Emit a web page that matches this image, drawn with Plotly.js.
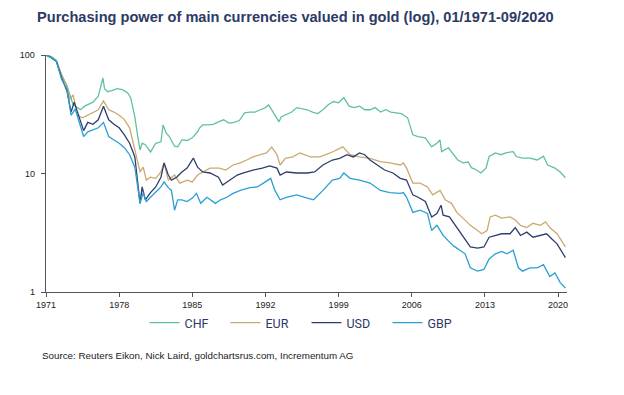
<!DOCTYPE html>
<html>
<head>
<meta charset="utf-8">
<script src="https://cdn.plot.ly/plotly-3.0.1.min.js"></script>
<style>html,body{margin:0;padding:0;background:#fff;}#chart{width:624px;height:395px;}</style>
</head>
<body>
<div id="chart"></div>
<script>
// ---- data ----
const chfYears = [1971.0,1971.5,1972.0,1972.5,1973.0,1973.3,1973.6,1974.0,1974.3,1974.7,1975.0,1975.5,1976.0,1976.45,1976.6,1976.9,1977.3,1977.8,1978.3,1978.8,1979.1,1979.5,1979.8,1980.0,1980.2,1980.5,1981.0,1981.5,1982.0,1982.2,1982.5,1982.8,1983.3,1983.6,1984.0,1984.5,1985.0,1985.5,1985.7,1986.0,1986.5,1987.0,1987.5,1988.0,1988.5,1989.0,1989.5,1990.0,1990.5,1991.0,1991.5,1992.0,1992.3,1992.8,1993.3,1993.5,1994.0,1994.5,1995.0,1995.5,1996.0,1996.5,1997.0,1997.5,1998.0,1998.5,1999.0,1999.5,2000.0,2000.5,2001.0,2001.5,2002.0,2002.5,2003.0,2003.5,2004.0,2004.5,2005.0,2005.6,2006.1,2006.6,2007.3,2007.9,2008.4,2008.7,2008.85,2009.5,2010.0,2010.4,2010.9,2011.4,2011.7,2012.2,2012.6,2013.1,2013.4,2014.0,2014.5,2015.1,2015.7,2016.0,2016.6,2017.3,2018.0,2018.6,2019.0,2019.7,2020.2,2020.7];
const chfValues = [100,97,90,68,55,45,38,36,34.5,37,38,40,45,64,52,49,50,52,51,48,43.6,30,20,15.8,18,17.5,15.2,18,18.5,25.7,22,20.5,17,16.8,19.2,19,20,22.5,24.3,25.7,25.7,26,27.3,28.4,26.6,27,28,32.5,33,33,34.5,36,38,32.5,27.3,30,31.3,33,36,35,34.5,33,32,34.5,38,40.5,39.5,43.7,37,36,37,34.5,34.5,36,33,34.5,33,32.5,32,29.5,21.2,20.5,20,16.8,18,19.2,15.3,16.5,14.4,13.0,12.3,12.5,11.2,10.7,10.1,11.1,13.9,14.9,14.4,15,15.3,13.9,13.5,13.5,13.0,14.0,11.8,11.1,10.3,9.2];

const eurYears = [1971.0,1971.5,1972.0,1972.5,1973.0,1973.3,1973.6,1974.0,1974.5,1975.0,1975.5,1976.0,1976.5,1977.0,1977.5,1978.0,1978.5,1979.0,1979.5,1980.0,1980.3,1980.6,1981.0,1981.5,1982.0,1982.3,1982.7,1983.3,1983.8,1984.5,1985.0,1985.5,1986.0,1986.7,1987.6,1988.2,1988.9,1989.6,1990.2,1990.8,1991.5,1992.1,1992.6,1993.1,1993.4,1993.9,1994.6,1995.3,1996.3,1997.2,1998.2,1998.8,1999.4,2000.1,2001.0,2002.0,2003.0,2003.9,2004.9,2005.2,2005.5,2006.1,2006.8,2007.5,2008.0,2008.7,2009.2,2009.8,2010.3,2010.9,2011.6,2012.3,2012.7,2013.2,2013.5,2014.0,2014.6,2015.4,2015.9,2016.4,2017.0,2017.6,2018.3,2018.8,2019.2,2019.9,2020.7];
const eurValues = [100,96,88,67,55,42,46,31,29.5,31,33,34.5,41,34.5,33,31,28.5,24.3,15.8,10.3,11.3,8.8,9.3,9.1,10.3,12.3,8.8,9.7,8.3,8.8,8.5,9.7,10.3,11.1,11.1,10.7,11.8,12.3,13.0,13.8,14.4,14.9,16.7,14.4,11.8,13.4,13.8,14.9,13.8,13.8,14.9,15.8,16.8,14.4,13.8,13.4,12.6,12.3,11.8,12.3,11.1,8.3,8.3,7.7,6.6,7.2,6.0,5.6,4.7,4.2,3.65,3.3,3.1,3.3,4.3,4.45,4.2,4.3,4.05,3.65,3.5,3.8,3.65,3.9,3.5,3.1,2.4];

const usdYears = [1971.0,1971.5,1972.0,1972.5,1973.0,1973.4,1973.7,1974.2,1974.6,1975.0,1975.5,1976.0,1976.5,1977.0,1977.5,1978.0,1978.5,1979.0,1979.5,1980.0,1980.2,1980.5,1981.0,1981.5,1982.0,1982.3,1982.7,1983.0,1983.5,1984.0,1984.5,1985.1,1985.5,1986.0,1986.7,1987.5,1987.9,1988.6,1989.3,1989.9,1990.8,1991.7,1992.4,1993.1,1993.4,1994.0,1995.0,1996.0,1996.7,1997.5,1998.4,1999.1,1999.8,2000.4,2001.0,2001.5,2002.0,2002.7,2003.4,2004.2,2004.9,2005.5,2006.1,2006.6,2007.3,2007.9,2008.4,2008.8,2009.0,2009.6,2010.3,2010.9,2011.6,2012.3,2012.9,2013.4,2014.0,2014.6,2015.4,2015.9,2016.4,2017.0,2017.6,2018.3,2018.9,2019.4,2019.9,2020.7];
const usdValues = [100,95,88,64,50,33,40,30,23,27,26,28.4,37,28.4,26,24.3,21.2,18,13.8,5.6,7.7,6.0,6.9,7.7,9.3,12.3,9.7,8.8,9.3,10.3,11.1,13.5,11.3,10.3,10.1,9.3,8.0,8.8,9.7,10.1,10.7,11.1,11.6,11.1,9.7,10.3,10.1,10.1,10.3,11.8,13.0,13.4,14.4,13.8,14.9,14.4,13.0,11.8,10.7,10.1,9.1,8.8,6.6,6.3,5.8,4.3,4.6,5.4,4.45,4.3,3.5,2.9,2.4,2.35,2.4,2.9,3.0,3.1,3.1,3.5,3.0,3.2,2.9,3.0,3.1,2.8,2.55,1.95];

const gbpYears = [1971.0,1971.5,1972.0,1972.5,1973.0,1973.4,1973.8,1974.2,1974.6,1975.0,1975.5,1976.0,1976.5,1977.0,1977.5,1978.0,1978.5,1979.0,1979.5,1980.0,1980.3,1980.6,1981.0,1981.5,1982.0,1982.3,1982.7,1983.0,1983.3,1983.6,1984.0,1984.5,1985.0,1985.4,1985.8,1986.4,1987.2,1987.7,1988.3,1988.9,1989.6,1990.5,1991.2,1991.8,1992.5,1992.9,1993.4,1994.0,1995.0,1996.0,1996.6,1997.5,1998.4,1999.1,1999.5,2000.1,2001.0,2002.0,2003.0,2003.9,2004.9,2005.2,2005.5,2006.1,2006.8,2007.5,2007.9,2008.4,2009.0,2009.5,2010.0,2010.6,2011.1,2011.6,2012.3,2012.9,2013.4,2014.0,2014.6,2015.1,2015.7,2016.2,2016.6,2017.3,2018.0,2018.6,2019.2,2019.7,2020.2,2020.7];
const gbpValues = [100,95,88,62,52,31,35,27,20.5,22.5,23.4,24.3,27,20.5,19.2,18,16.5,14.4,11.3,5.6,6.9,5.8,6.3,6.9,7.7,8.5,7.6,7.2,4.9,6.0,6.0,5.8,6.2,6.8,5.6,6.3,5.6,6.0,6.3,6.8,7.2,7.6,7.7,8.3,9.1,7.2,6.0,6.3,6.6,6.2,6.0,7.2,8.8,9.1,10.1,9.1,8.8,8.3,7.2,6.9,6.8,6.9,6.3,4.7,4.9,4.6,3.3,3.65,3.0,2.7,2.45,2.25,2.1,1.6,1.5,1.55,1.9,2.1,2.2,2.1,2.25,1.6,1.5,1.6,1.6,1.7,1.35,1.45,1.2,1.08];

const seriesNames = ['CHF','EUR','USD','GBP'];
const yearTicks = [1971,1978,1985,1992,1999,2006,2013,2020];
const valueTicks = [1,10,100];

// ---- chart ----
const colors = ['#63c09d','#c9aa70','#2f3d6c','#2b9fd4'];
const xs = [chfYears, eurYears, usdYears, gbpYears];
const ys = [chfValues, eurValues, usdValues, gbpValues];
const traces = seriesNames.map((n,i)=>({
  type:'scatter', mode:'lines', name:n, x:xs[i], y:ys[i],
  line:{color:colors[i], width:1.3}
}));

const layout = {
  width:624, height:395,
  margin:{l:46, r:57, t:55, b:103},
  paper_bgcolor:'#fff', plot_bgcolor:'#fff',
  font:{family:'Liberation Sans, Arial, sans-serif', size:9, color:'#222'},
  title:{text:'Purchasing power of main currencies valued in gold (log), 01/1971-09/2020',
    x:37/624, xanchor:'left', y:1-17/395, yanchor:'middle',
    font:{family:'Liberation Sans, Arial, sans-serif', size:14.6, color:'#2d3a66', weight:'bold'}},
  xaxis:{range:[1971,2020.85], tickvals:yearTicks, ticktext:yearTicks.map(String),
    ticks:'outside', ticklen:4, tickcolor:'#555', showline:true, linecolor:'#555', linewidth:1.3,
    showgrid:false, zeroline:false, tickfont:{size:9, color:'#222'}},
  yaxis:{type:'log', range:[0,2], tickvals:valueTicks, ticktext:valueTicks.map(String),
    ticks:'outside', ticklen:4, tickcolor:'#555', showline:true, linecolor:'#555', linewidth:1.3,
    showgrid:false, zeroline:false, tickfont:{size:9, color:'#222'}, ticklabelstandoff:4},
  showlegend:true,
  legend:{orientation:'h', x:0.5, xanchor:'center', y:(292-323)/237, yanchor:'middle',
    font:{family:'Roboto, Liberation Sans, sans-serif', size:12.5, color:'#2d3a66'},
    entrywidth:36, entrywidthmode:'pixels', itemwidth:30},
  annotations:[{text:'Source: Reuters Eikon, Nick Laird, goldchartsrus.com, Incrementum AG',
    xref:'paper', yref:'paper', x:(40-46)/521, xanchor:'left', y:(292-355)/237, yanchor:'middle',
    showarrow:false, font:{size:9.8, color:'#222'}}]
};
Plotly.newPlot('chart', traces, layout, {staticPlot:true, displayModeBar:false});
</script>
</body>
</html>
